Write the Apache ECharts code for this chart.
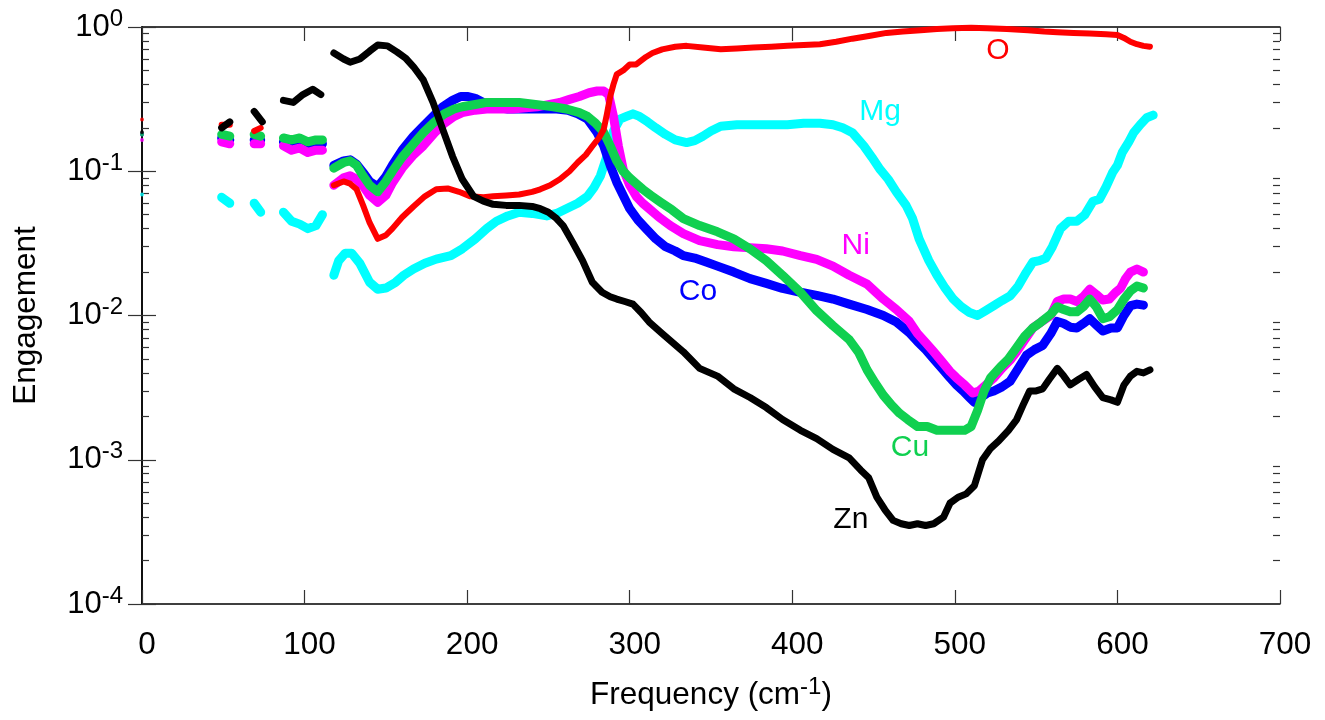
<!DOCTYPE html>
<html><head><meta charset="utf-8">
<script src="https://cdn.jsdelivr.net/npm/echarts@6/dist/echarts.min.js"></script>
<style>html,body{margin:0;padding:0;background:#fff}#c{width:1325px;height:720px}</style>
</head><body><div id="c"></div>
<script>
// ---------- DATA (frequency in cm^-1, engagement) ----------
const elements = ['Mg', 'Co', 'Ni', 'Cu', 'O', 'Zn'];
const xTicks = [0, 100, 200, 300, 400, 500, 600, 700];
const yDecades = [0.0001, 0.001, 0.01, 0.1, 1];

// points at the very left edge (frequency 0), same order as elements
const edgeFreq = 0;
const edgeValues = [0.069, 0.18, 0.165, 0.18, 0.228, 0.186];

// null = gap in the measured data
const mgData = [[49,0.066],[54,0.060],[60,null],[69,0.060],[73,0.052],[80,null],[87,0.052],[92,0.045],[97,0.043],[102,0.040],[107,0.042],[111,0.050],[115,null],
[118,0.019],[121,0.024],[125,0.027],[129,0.027],[134,0.023],[140,0.017],[145,0.0152],[150,0.0155],[156,0.017],[161,0.019],[167,0.021],[174,0.023],[181,0.0246],[190,0.026],[197,0.029],[205,0.034],[212,0.040],[218,0.045],[225,0.049],[232,0.052],[240,0.051],[249,0.049],[255,0.051],[261,0.055],[268,0.060],[274,0.067],[278,0.077],[282,0.093],[286,0.127],[290,0.19],[294,0.23],[298,0.24],[302,0.25],[306,0.24],[311,0.22],[316,0.20],[322,0.18],[328,0.165],[335,0.158],[340,0.163],[345,0.175],[350,0.19],[356,0.205],[366,0.21],[376,0.21],[387,0.21],[397,0.21],[407,0.215],[417,0.215],[425,0.21],[431,0.20],[437,0.185],[444,0.15],[449,0.125],[454,0.103],[459,0.088],[464,0.072],[470,0.058],[474,0.047],[478,0.034],[484,0.024],[489,0.019],[494,0.0155],[499,0.013],[504,0.0115],[509,0.0105],[514,0.010],[519,0.0108],[524,0.0117],[529,0.0127],[534,0.0137],[539,0.016],[544,0.020],[548,0.0235],[552,0.024],[556,0.025],[560,0.030],[565,0.040],[570,0.045],[575,0.045],[580,0.050],[585,0.062],[589,0.064],[593,0.078],[597,0.098],[600,0.11],[603,0.135],[607,0.16],[610,0.185],[614,0.21],[618,0.235],[622,0.245]];

const coData = [[49,0.17],[54,0.165],[60,null],[69,0.165],[73,0.165],[80,null],[87,0.16],[92,0.155],[97,0.16],[102,0.15],[107,0.155],[111,0.155],[115,null],
[118,0.11],[124,0.118],[128,0.12],[132,0.112],[136,0.098],[140,0.085],[145,0.078],[150,0.092],[154,0.11],[160,0.14],[167,0.175],[173,0.205],[179,0.24],[185,0.28],[191,0.31],[196,0.33],[200,0.33],[205,0.32],[210,0.30],[216,0.28],[225,0.27],[235,0.27],[245,0.27],[255,0.27],[262,0.265],[268,0.25],[274,0.23],[280,0.185],[284,0.15],[288,0.11],[292,0.084],[296,0.068],[300,0.055],[305,0.046],[310,0.040],[316,0.034],[322,0.030],[328,0.028],[333,0.026],[340,0.025],[347,0.0235],[354,0.022],[364,0.020],[374,0.018],[384,0.0167],[394,0.0154],[405,0.0145],[415,0.0138],[425,0.013],[435,0.012],[446,0.011],[456,0.010],[464,0.009],[472,0.0076],[477,0.0066],[482,0.0058],[487,0.005],[492,0.0043],[497,0.0037],[501,0.0033],[505,0.003],[509,0.0027],[512,0.0025],[516,0.0027],[520,0.0029],[524,0.003],[529,0.0032],[534,0.0035],[539,0.0043],[544,0.0053],[549,0.0058],[554,0.0062],[559,0.0075],[563,0.0091],[567,0.0088],[571,0.0083],[575,0.0082],[579,0.0088],[583,0.0095],[587,0.0086],[591,0.0078],[596,0.0082],[600,0.0082],[604,0.010],[608,0.0117],[612,0.012],[616,0.0118]];

const niData = [[49,0.16],[54,0.155],[60,null],[69,0.155],[73,0.155],[80,null],[87,0.15],[92,0.14],[97,0.145],[102,0.135],[107,0.14],[111,0.14],[115,null],
[118,0.08],[124,0.09],[128,0.093],[132,0.088],[136,0.079],[140,0.068],[145,0.061],[150,0.068],[154,0.083],[160,0.105],[167,0.13],[173,0.15],[180,0.185],[186,0.215],[192,0.24],[197,0.255],[205,0.265],[212,0.27],[220,0.27],[228,0.27],[236,0.275],[243,0.28],[250,0.29],[257,0.30],[263,0.315],[269,0.33],[275,0.35],[280,0.36],[284,0.36],[287,0.34],[290,0.24],[293,0.15],[296,0.103],[300,0.08],[304,0.067],[308,0.06],[312,0.055],[318,0.048],[325,0.042],[333,0.037],[343,0.033],[354,0.031],[364,0.03],[374,0.0295],[384,0.029],[394,0.028],[405,0.026],[415,0.0245],[425,0.022],[435,0.019],[446,0.0165],[456,0.013],[464,0.011],[472,0.0091],[477,0.0075],[482,0.0065],[487,0.0056],[492,0.0048],[497,0.0041],[501,0.0037],[506,0.0033],[511,0.0029],[515,0.003],[519,0.0033],[524,0.0037],[529,0.0043],[534,0.0049],[538,0.0056],[543,0.0068],[548,0.0082],[553,0.009],[559,0.010],[563,0.0125],[567,0.013],[571,0.013],[575,0.0125],[579,0.0135],[583,0.0152],[587,0.014],[591,0.0128],[595,0.013],[599,0.0145],[602,0.0155],[605,0.018],[608,0.02],[612,0.021],[616,0.02]];

const cuData = [[49,0.18],[54,0.175],[60,null],[69,0.18],[73,0.175],[80,null],[87,0.17],[92,0.165],[97,0.17],[102,0.16],[107,0.165],[111,0.165],[115,null],
[118,0.105],[124,0.115],[128,0.118],[132,0.11],[136,0.093],[140,0.08],[145,0.072],[150,0.085],[154,0.10],[160,0.125],[167,0.155],[173,0.185],[180,0.22],[186,0.25],[192,0.27],[197,0.28],[205,0.29],[212,0.30],[222,0.30],[232,0.30],[242,0.29],[253,0.28],[261,0.27],[269,0.255],[274,0.24],[279,0.215],[284,0.186],[288,0.15],[292,0.118],[296,0.10],[300,0.09],[304,0.082],[308,0.075],[313,0.068],[319,0.061],[326,0.054],[333,0.047],[343,0.042],[354,0.038],[364,0.034],[374,0.029],[384,0.024],[394,0.019],[405,0.0145],[415,0.0108],[425,0.0085],[435,0.0068],[441,0.0055],[446,0.0042],[451,0.0034],[456,0.0028],[461,0.0024],[466,0.0021],[471,0.0019],[477,0.0017],[483,0.0017],[489,0.0016],[495,0.0016],[501,0.0016],[506,0.0016],[510,0.0017],[514,0.0022],[518,0.003],[522,0.0037],[528,0.0044],[533,0.005],[538,0.006],[543,0.0072],[548,0.0082],[553,0.009],[559,0.0102],[563,0.0115],[567,0.011],[571,0.0106],[575,0.0106],[579,0.0115],[583,0.013],[587,0.0115],[591,0.0095],[595,0.0098],[600,0.011],[604,0.013],[608,0.0148],[612,0.016],[616,0.0155]];

const oData = [[49,0.21],[54,0.21],[60,null],[69,0.19],[73,0.20],[80,null],
[118,0.08],[124,0.085],[128,0.082],[132,0.075],[136,0.058],[140,0.044],[145,0.034],[150,0.036],[154,0.040],[160,0.048],[167,0.057],[174,0.067],[181,0.075],[188,0.076],[195,0.072],[202,0.067],[210,0.066],[216,0.067],[224,0.068],[232,0.069],[240,0.072],[245,0.075],[251,0.08],[257,0.088],[263,0.10],[268,0.115],[273,0.13],[277,0.149],[281,0.17],[284,0.195],[286,0.25],[288,0.33],[290,0.40],[292,0.47],[296,0.50],[300,0.55],[304,0.55],[310,0.62],[314,0.66],[320,0.70],[328,0.73],[335,0.74],[345,0.72],[356,0.70],[366,0.71],[376,0.72],[387,0.73],[397,0.74],[407,0.75],[417,0.76],[427,0.79],[437,0.83],[448,0.87],[458,0.91],[468,0.93],[479,0.95],[489,0.97],[499,0.98],[510,0.99],[520,0.98],[532,0.97],[545,0.95],[555,0.93],[563,0.92],[573,0.91],[583,0.90],[593,0.89],[600,0.88],[604,0.84],[608,0.79],[612,0.76],[616,0.74],[620,0.73]];

const znData = [[49,0.20],[54,0.22],[60,null],[69,0.26],[74,0.22],[80,null],[87,0.31],[93,0.30],[99,0.34],[105,0.37],[110,0.34],[115,null],
[118,0.66],[124,0.60],[128,0.57],[134,0.60],[140,0.68],[145,0.75],[151,0.74],[157,0.67],[162,0.61],[167,0.53],[173,0.43],[179,0.30],[185,0.195],[191,0.127],[197,0.088],[204,0.067],[210,0.062],[216,0.059],[224,0.058],[232,0.058],[240,0.057],[245,0.055],[250,0.052],[255,0.047],[259,0.042],[265,0.032],[271,0.024],[277,0.017],[283,0.0145],[288,0.0135],[292,0.013],[297,0.0125],[302,0.012],[307,0.0105],[312,0.009],[320,0.0075],[333,0.0056],[343,0.0043],[354,0.0038],[364,0.0031],[374,0.0027],[384,0.0023],[394,0.0019],[405,0.0016],[415,0.0014],[425,0.00118],[435,0.00103],[442,0.00085],[447,0.00075],[452,0.00055],[457,0.00045],[462,0.00038],[467,0.00036],[472,0.00035],[477,0.00036],[482,0.00035],[487,0.00036],[493,0.0004],[497,0.0005],[502,0.00055],[507,0.00058],[512,0.00066],[517,0.001],[522,0.0012],[527,0.00135],[533,0.0016],[538,0.0019],[542,0.0024],[546,0.0030],[550,0.0030],[554,0.0031],[558,0.0036],[563,0.0043],[567,0.0038],[571,0.0033],[576,0.0036],[581,0.0039],[586,0.0032],[591,0.0027],[596,0.0026],[600,0.0025],[604,0.0033],[608,0.0038],[612,0.0041],[616,0.0040],[620,0.0042]];

const seriesData = [mgData, coData, niData, cuData, oData, znData];

// where each element's name is written inside the plot (frequency, engagement)
const labelAnchors = [[454,0.259],[342,0.01465],[439,0.0304],[472.4,0.00121],[526.5,0.69],[436,0.000386]];

// ---------- STYLE ----------
const colors = ['#00ffff', '#0000ff', '#ff00ff', '#10d050', '#ff0000', '#000000'];
const widths = [9, 9, 9, 9, 6, 7];
const FONT = '"Liberation Sans", Arial, sans-serif';

const minorValues = [];
for (let d = 0; d < yDecades.length - 1; d++) {
  for (let k = 2; k <= 9; k++) minorValues.push(+(yDecades[d] * k).toPrecision(3));
}

const chart = echarts.init(document.getElementById('c'), null, {renderer: 'canvas'});

const supRich = {
  b: {fontSize: 31, lineHeight: 40, fontFamily: FONT, color: '#000'},
  s: {fontSize: 24, lineHeight: 20, verticalAlign: 'top', fontFamily: FONT, color: '#000'}
};

const baseY = {type: 'log', logBase: 10, min: 0.0001, max: 1, splitLine: {show: false}};

const series = elements.map((name, i) => ({
  name, type: 'line', xAxisIndex: 0, yAxisIndex: 0,
  data: seriesData[i].map(([f, v]) => [f, v === null ? '-' : v]),
  showSymbol: false, connectNulls: false, smooth: false,
  lineStyle: {color: colors[i], width: widths[i], cap: 'round', join: 'round'},
  itemStyle: {color: colors[i]},
  animation: false, silent: true
}));
series.push({
  type: 'scatter', xAxisIndex: 0, yAxisIndex: 0, symbolSize: 4, silent: true, animation: false,
  data: edgeValues.map((v, i) => ({value: [edgeFreq, v], itemStyle: {color: colors[i]}}))
});

chart.setOption({
  animation: false,
  backgroundColor: '#fff',
  grid: {left: 142, right: 45, top: 27, bottom: 113, show: false},
  xAxis: [
    {type: 'value', position: 'bottom', min: 0, max: 700, interval: 100,
     axisLine: {show: true, onZero: false, lineStyle: {color: '#000', width: 1.5}},
     axisTick: {show: true, inside: true, length: 14, lineStyle: {color: '#333', width: 1.2}},
     axisLabel: {show: true, fontSize: 31.5, fontFamily: FONT, color: '#000', margin: 25,
                 padding: [0, 0, 0, 10], customValues: xTicks},
     splitLine: {show: false},
     name: 'Frequency (cm{s|-1})', nameLocation: 'middle', nameGap: 71,
     nameTextStyle: {fontSize: 31.5, fontFamily: FONT, color: '#000', lineHeight: 40,
                     rich: {s: {fontSize: 24, lineHeight: 20, verticalAlign: 'top', fontFamily: FONT, color: '#000'}}}},
    {type: 'value', position: 'top', min: 0, max: 700, interval: 100,
     axisLine: {show: true, onZero: false, lineStyle: {color: '#000', width: 1.5}},
     axisTick: {show: true, inside: true, length: 14, lineStyle: {color: '#333', width: 1.2}},
     axisLabel: {show: false}, splitLine: {show: false}}
  ],
  yAxis: [
    Object.assign({}, baseY, {position: 'left',
     axisLine: {show: true, lineStyle: {color: '#000', width: 1.5}},
     axisTick: {show: true, inside: true, length: 14, lineStyle: {color: '#333', width: 1.2}, customValues: yDecades},
     axisLabel: {show: true, margin: 19, customValues: yDecades,
       formatter: v => '{b|10}{s|' + Math.round(Math.log10(v)) + '}', rich: supRich},
     name: 'Engagement', nameLocation: 'middle', nameGap: 100,
     nameTextStyle: {fontSize: 31.5, fontFamily: FONT, color: '#000'}}),
    Object.assign({}, baseY, {position: 'right',
     axisLine: {show: true, lineStyle: {color: '#000', width: 1.5}},
     axisTick: {show: true, inside: true, length: 14, lineStyle: {color: '#333', width: 1.2}, customValues: yDecades},
     axisLabel: {show: false}}),
    Object.assign({}, baseY, {position: 'left',
     axisLine: {show: false},
     axisTick: {show: true, inside: true, length: 7, lineStyle: {color: '#333', width: 1.2}, customValues: minorValues},
     axisLabel: {show: false}}),
    Object.assign({}, baseY, {position: 'right',
     axisLine: {show: false},
     axisTick: {show: true, inside: true, length: 7, lineStyle: {color: '#333', width: 1.2}, customValues: minorValues},
     axisLabel: {show: false}})
  ],
  series
});

const graphics = elements.map((name, i) => {
  const p = chart.convertToPixel({xAxisIndex: 0, yAxisIndex: 0}, labelAnchors[i]);
  return {type: 'text', x: p[0], y: p[1], silent: true, z: 100,
    style: {text: name, fill: colors[i], font: '30px ' + FONT, align: 'center', verticalAlign: 'middle'}};
});
chart.setOption({graphic: graphics});
</script></body></html>
